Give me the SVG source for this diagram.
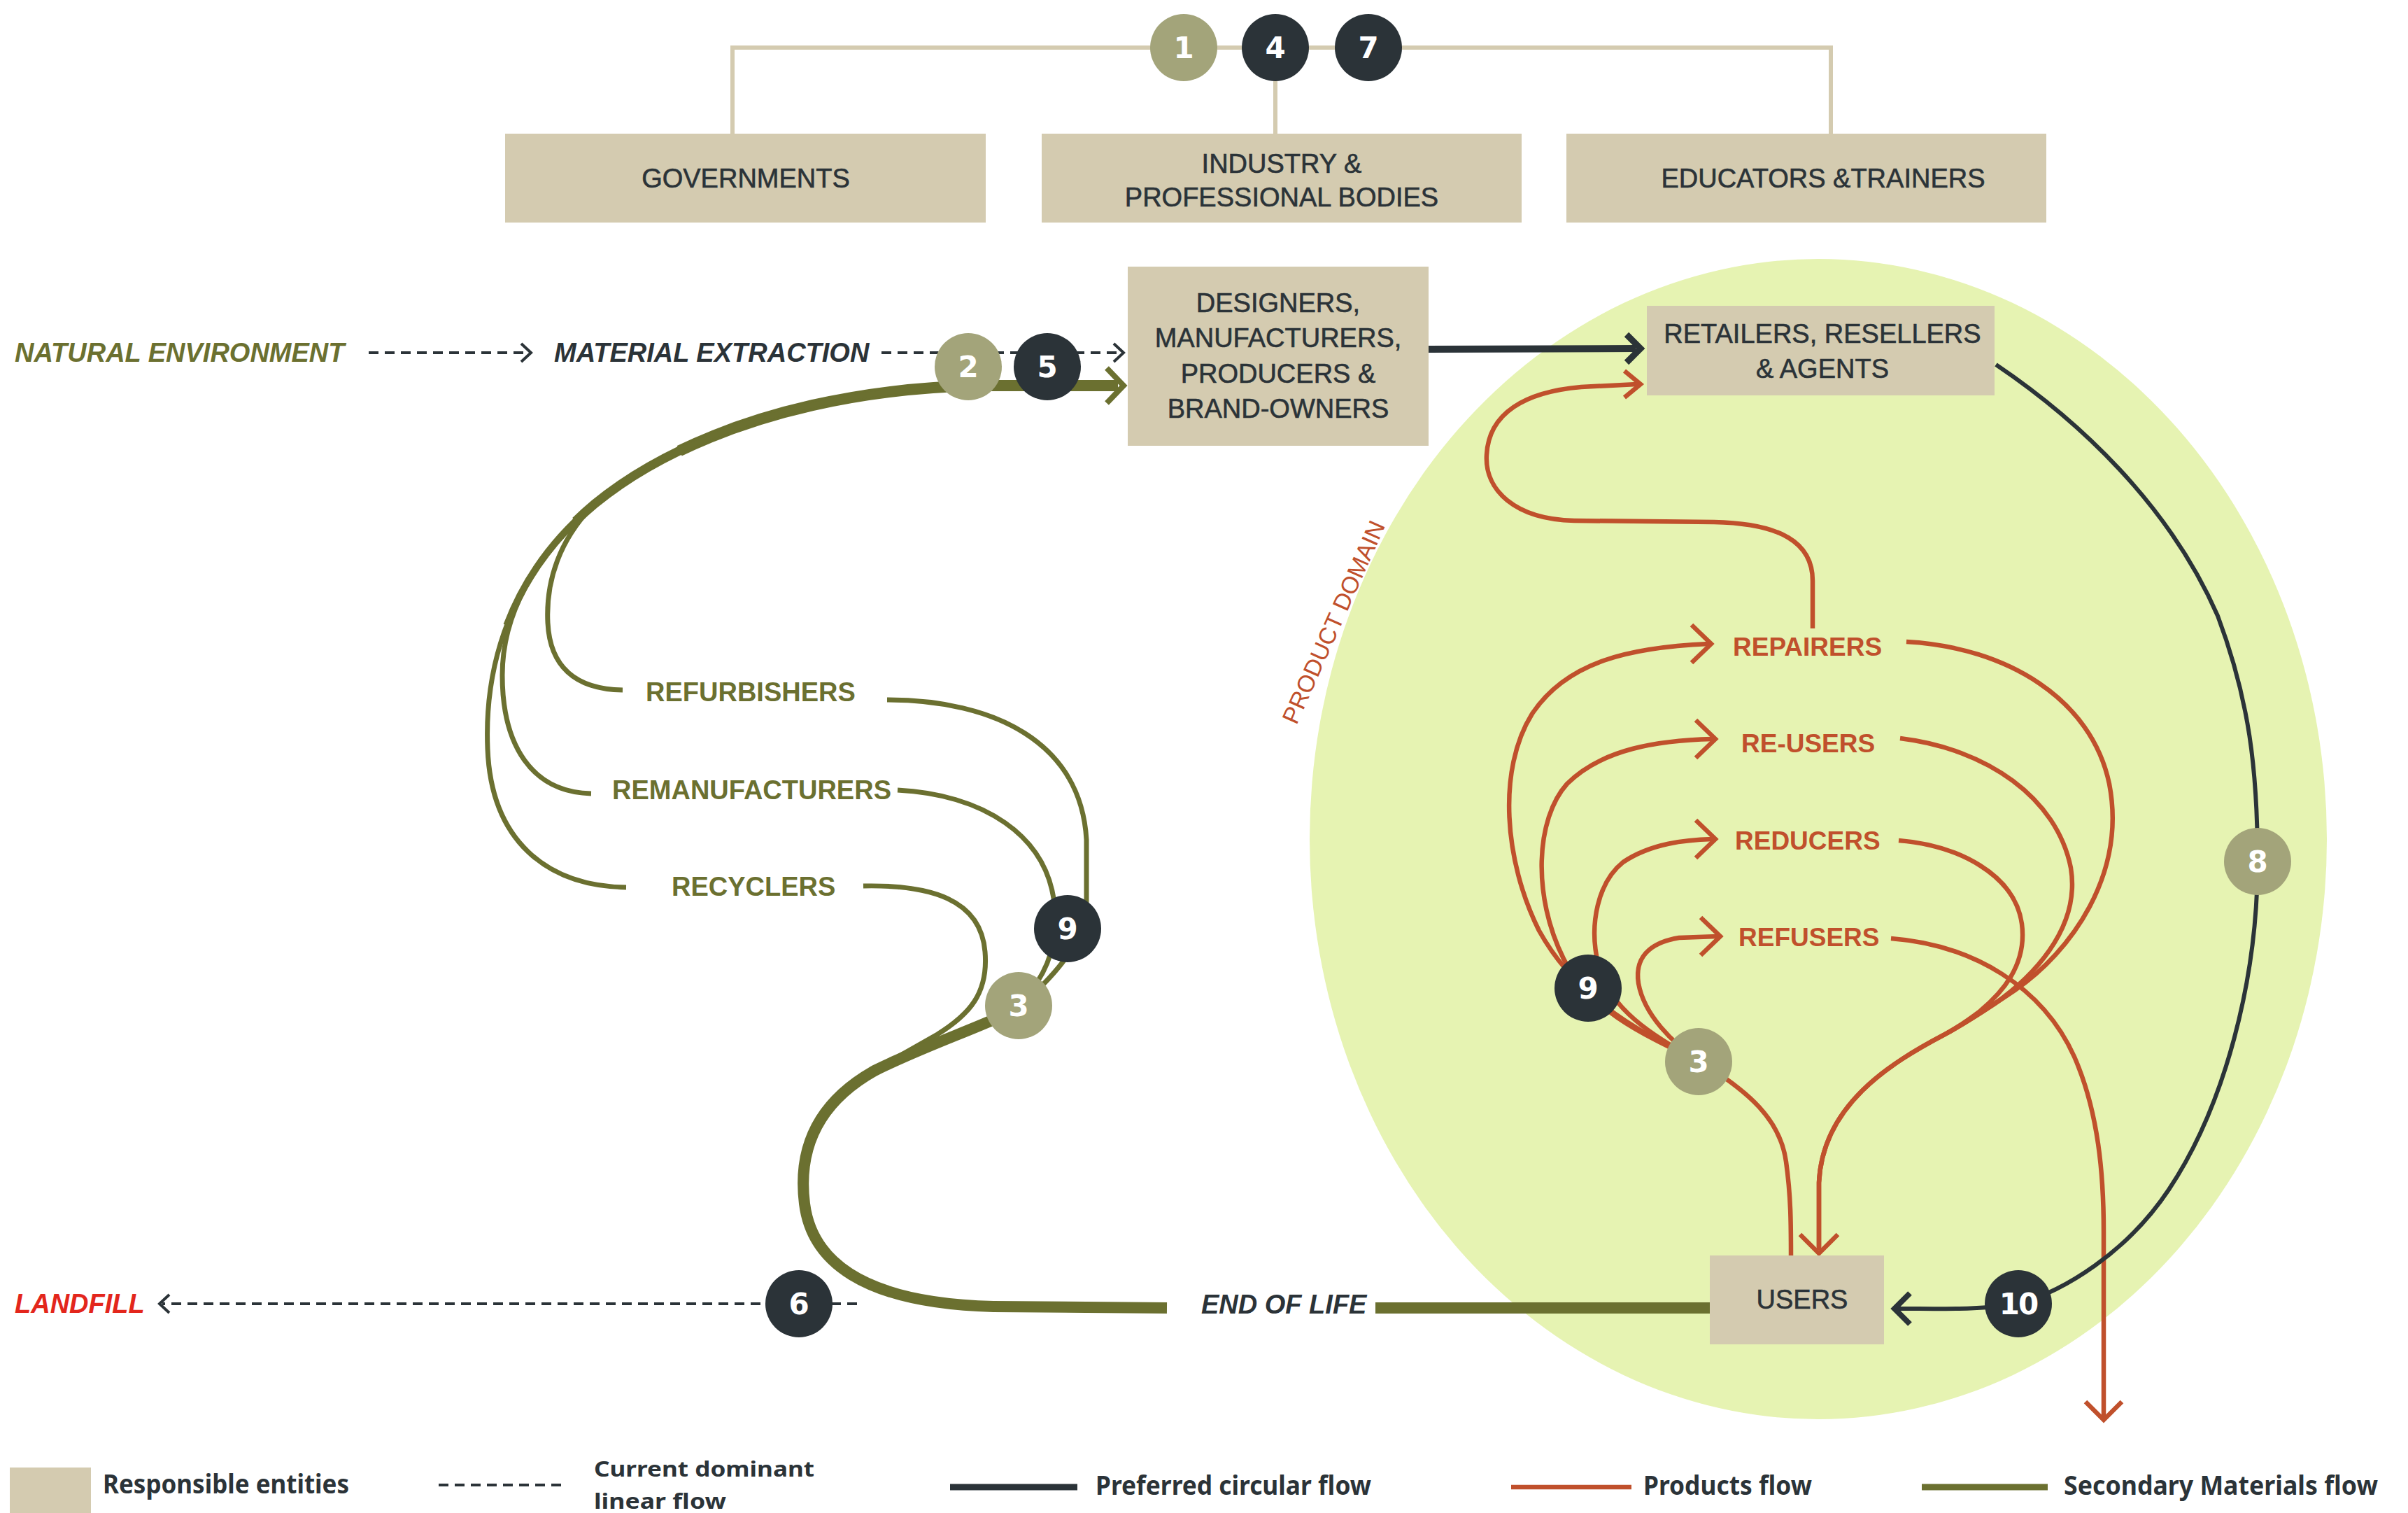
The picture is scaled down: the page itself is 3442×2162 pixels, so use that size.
<svg xmlns="http://www.w3.org/2000/svg" width="3442" height="2162" viewBox="0 0 3442 2162">
<style>
.box{fill:#d4cbb0}
.bt{font-family:"Liberation Sans",Arial,sans-serif;font-size:38px;fill:#2b3338;text-anchor:middle;stroke:#2b3338;stroke-width:0.6}
.it{font-family:"Liberation Sans",Arial,sans-serif;font-size:38px;font-weight:bold;font-style:italic}
.lo{font-family:"Liberation Sans",Arial,sans-serif;font-size:38px;font-weight:bold;fill:#6b7030}
.lr{font-family:"Liberation Sans",Arial,sans-serif;font-size:37px;font-weight:bold;fill:#c0502c}
.num{font-family:"DejaVu Sans","Liberation Sans",sans-serif;font-size:42px;font-weight:bold;fill:#ffffff;text-anchor:middle}
.bl{fill:#a3a47a}
.bd{fill:#2b3338}
.leg{font-family:"Noto Sans","Liberation Sans",sans-serif;font-size:38px;font-weight:bold;fill:#2b3338}
.leg2{font-family:"Noto Sans","Liberation Sans",sans-serif;font-size:31px;font-weight:bold;fill:#2b3338}
.ol{fill:none;stroke:#6b7030;stroke-linecap:butt}
.rd{fill:none;stroke:#c0502c;stroke-width:6.5}
.dk{fill:none;stroke:#2b3338}
.dash{fill:none;stroke:#2b3338;stroke-width:4;stroke-dasharray:14 9}
.tan{fill:none;stroke:#d4cbb0;stroke-width:6}
</style>
<defs>
  <path id="outer-arc" d="M1598,551 L1400,551 C1150,556 960,630 850,720 C730,820 692,950 697,1070 C702,1200 780,1266 895,1268"/>
</defs>

<ellipse id="product-domain" cx="2599" cy="1199" rx="727" ry="829" fill="#e6f3b2"/>
<text id="product-domain-label" transform="translate(1906,889) rotate(-66)" text-anchor="middle" y="12" font-family="Liberation Sans, Arial, sans-serif" font-size="34" fill="#c0502c">PRODUCT DOMAIN</text>

<g id="connectors">
  <path class="tan" d="M1047,191 V68 H2617 V191"/>
  <path class="tan" d="M1823,68 V191"/>
  <path class="dash" d="M527,504 H756"/>
  <path class="dk" stroke-width="4" d="M745,491 L759,504 L745,517"/>
  <path class="dash" d="M1260,504 H1600"/>
  <path class="dk" stroke-width="4" d="M1592,491 L1606,504 L1592,517"/>
  <path class="dash" d="M1225,1863 H232"/>
  <path class="dk" stroke-width="4" d="M242,1850 L228,1863 L242,1876"/>

  <use href="#outer-arc" class="ol" stroke-width="16" stroke-dasharray="640 5000"/>
  <use href="#outer-arc" class="ol" stroke-width="13" stroke-dasharray="820 5000"/>
  <use href="#outer-arc" class="ol" stroke-width="10" stroke-dasharray="1000 5000"/>
  <use href="#outer-arc" class="ol" stroke-width="7"/>
  <path class="ol" stroke-width="7" d="M850,720 C760,800 718,880 718,965 C718,1065 760,1132 845,1134"/>
  <path class="ol" stroke-width="7" d="M850,720 C800,770 780,830 783,890 C786,950 820,985 890,986"/>
  <path class="ol" stroke-width="8" d="M1582,526 L1606,551 L1582,576"/>
  <path class="ol" stroke-width="7" d="M1268,1000 C1420,1000 1545,1060 1553,1200 L1553,1290 C1550,1350 1505,1395 1465,1432"/>
  <path class="ol" stroke-width="7" d="M1283,1129 C1400,1135 1500,1190 1508,1300 C1512,1360 1490,1400 1460,1432"/>
  <path class="ol" stroke-width="7" d="M1234,1266 C1330,1264 1402,1285 1408,1360 C1413,1420 1385,1450 1340,1478 L1280,1512"/>
  <path class="ol" stroke-width="16" d="M1462,1436 C1420,1462 1330,1490 1250,1530 C1170,1575 1140,1640 1150,1720 C1160,1800 1230,1862 1420,1867 L1668,1869"/>
  <path class="ol" stroke-width="16" d="M1966,1869 H2446"/>

  <path class="rd" d="M2591,898 L2591,830 C2591,775 2545,748 2450,746 L2250,744 C2165,742 2122,700 2125,650 C2128,590 2180,560 2260,553 L2340,549"/>
  <path class="rd" stroke-width="7" d="M2322,530 L2345,549 L2322,568"/>
  <path class="rd" d="M2430,1517 C2330,1470 2250,1420 2200,1330 C2150,1230 2140,1100 2190,1020 C2240,945 2330,925 2442,920"/>
  <path class="rd" d="M2430,1517 C2340,1475 2270,1440 2235,1370 C2190,1280 2195,1170 2240,1120 C2290,1070 2370,1058 2448,1056"/>
  <path class="rd" d="M2430,1517 C2360,1480 2300,1440 2285,1380 C2270,1320 2285,1260 2320,1232 C2360,1205 2410,1200 2448,1199"/>
  <path class="rd" d="M2430,1517 C2390,1490 2350,1450 2342,1405 C2335,1360 2370,1345 2400,1340 L2455,1338"/>
  <path class="rd" d="M2418,893 L2446,920 L2418,947"/>
  <path class="rd" d="M2424,1029 L2452,1056 L2424,1083"/>
  <path class="rd" d="M2424,1172 L2452,1199 L2424,1226"/>
  <path class="rd" d="M2431,1311 L2459,1338 L2431,1365"/>
  <path class="rd" d="M2725,917 C2870,925 2990,1000 3015,1120 C3040,1250 2960,1360 2880,1415 C2840,1442 2810,1462 2780,1478 C2700,1520 2605,1580 2600,1690 L2600,1786"/>
  <path class="rd" d="M2716,1055 C2840,1070 2940,1140 2960,1240 C2975,1330 2900,1400 2850,1435 C2820,1455 2800,1467 2780,1478"/>
  <path class="rd" d="M2714,1201 C2800,1208 2880,1250 2890,1320 C2898,1380 2860,1420 2830,1445 C2810,1460 2795,1470 2780,1478"/>
  <path class="rd" stroke-width="13" d="M2780,1478 C2700,1520 2605,1580 2600,1690 L2600,1784"/>
  <path class="rd" stroke-width="13" d="M2430,1517 C2500,1560 2545,1600 2553,1660 C2560,1710 2560,1750 2560,1794"/>
  <path class="rd" stroke-width="7" d="M2573,1764 L2600,1791 L2627,1764"/>
  <path class="rd" d="M2703,1341 C2820,1350 2920,1410 2965,1510 C3000,1590 3007,1680 3007,1760 L3007,2026"/>
  <path class="rd" d="M2981,2003 L3007,2029 L3033,2003"/>

  <path class="dk" stroke-width="10" d="M2042,499 L2338,498"/>
  <path class="dk" stroke-width="9" d="M2325,478 L2345,498 L2325,518"/>
  <path class="dk" stroke-width="6" d="M2853,521 C2970,600 3100,720 3170,880 C3215,1000 3227,1100 3227,1231 C3227,1400 3180,1580 3100,1700 C3040,1790 2950,1845 2885,1863 C2830,1872 2780,1870 2712,1870"/>
  <path class="dk" stroke-width="8" d="M2730,1848 L2708,1870 L2730,1892"/>
</g>

<g id="governments"><rect class="box" x="722" y="191" width="687" height="127"/><text class="bt" x="1066" y="268">GOVERNMENTS</text></g>
<g id="industry"><rect class="box" x="1489" y="191" width="686" height="127"/><text class="bt" x="1832" y="247">INDUSTRY &amp;</text><text class="bt" x="1832" y="295">PROFESSIONAL BODIES</text></g>
<g id="educators"><rect class="box" x="2239" y="191" width="686" height="127"/><text class="bt" x="2606" y="268">EDUCATORS &amp;TRAINERS</text></g>
<g id="designers"><rect class="box" x="1612" y="381" width="430" height="256"/><text class="bt" x="1827" y="446">DESIGNERS,</text><text class="bt" x="1827" y="496">MANUFACTURERS,</text><text class="bt" x="1827" y="547">PRODUCERS &amp;</text><text class="bt" x="1827" y="597">BRAND-OWNERS</text></g>
<g id="retailers"><rect class="box" x="2354" y="437" width="497" height="128"/><text class="bt" x="2605" y="490">RETAILERS, RESELLERS</text><text class="bt" x="2605" y="540">&amp; AGENTS</text></g>
<g id="users"><rect class="box" x="2444" y="1794" width="249" height="127"/><text class="bt" x="2576" y="1870">USERS</text></g>

<g id="natural-environment"><text class="it" x="21" y="517" fill="#6b7030">NATURAL ENVIRONMENT</text></g>
<g id="material-extraction"><text class="it" x="792" y="517" fill="#2b3338">MATERIAL EXTRACTION</text></g>
<g id="end-of-life"><text class="it" x="1717" y="1877" fill="#2b3338">END OF LIFE</text></g>
<g id="landfill"><text class="it" x="21" y="1876" fill="#e3261c">LANDFILL</text></g>
<g id="refurbishers"><text class="lo" x="923" y="1002">REFURBISHERS</text></g>
<g id="remanufacturers"><text class="lo" x="875" y="1142">REMANUFACTURERS</text></g>
<g id="recyclers"><text class="lo" x="960" y="1280">RECYCLERS</text></g>
<g id="repairers"><text class="lr" x="2477" y="937">REPAIRERS</text></g>
<g id="re-users"><text class="lr" x="2489" y="1075">RE-USERS</text></g>
<g id="reducers"><text class="lr" x="2480" y="1214">REDUCERS</text></g>
<g id="refusers"><text class="lr" x="2485" y="1352">REFUSERS</text></g>

<g id="badge-1"><circle class="bl" cx="1692" cy="68" r="48"/><text class="num" x="1692" y="83">1</text></g>
<g id="badge-4"><circle class="bd" cx="1823" cy="68" r="48"/><text class="num" x="1823" y="83">4</text></g>
<g id="badge-7"><circle class="bd" cx="1956" cy="68" r="48"/><text class="num" x="1956" y="83">7</text></g>
<g id="badge-2"><circle class="bl" cx="1384" cy="524" r="48"/><text class="num" x="1384" y="539">2</text></g>
<g id="badge-5"><circle class="bd" cx="1497" cy="524" r="48"/><text class="num" x="1497" y="539">5</text></g>
<g id="badge-9a"><circle class="bd" cx="1526" cy="1327" r="48"/><text class="num" x="1526" y="1342">9</text></g>
<g id="badge-3a"><circle class="bl" cx="1456" cy="1437" r="48"/><text class="num" x="1456" y="1452">3</text></g>
<g id="badge-6"><circle class="bd" cx="1142" cy="1863" r="48"/><text class="num" x="1142" y="1878">6</text></g>
<g id="badge-9b"><circle class="bd" cx="2270" cy="1412" r="48"/><text class="num" x="2270" y="1427">9</text></g>
<g id="badge-3b"><circle class="bl" cx="2428" cy="1517" r="48"/><text class="num" x="2428" y="1532">3</text></g>
<g id="badge-8"><circle class="bl" cx="3227" cy="1231" r="48"/><text class="num" x="3227" y="1246">8</text></g>
<g id="badge-10"><circle class="bd" cx="2885" cy="1863" r="48"/><text class="num" x="2885" y="1878" letter-spacing="-2">10</text></g>

<g id="legend">
  <rect class="box" x="14" y="2097" width="116" height="65"/>
  <text class="leg" x="147" y="2134" textLength="352" lengthAdjust="spacingAndGlyphs">Responsible entities</text>
  <path class="dash" d="M627,2122 H810"/>
  <text class="leg2" x="849" y="2110" textLength="315" lengthAdjust="spacingAndGlyphs">Current dominant</text>
  <text class="leg2" x="849" y="2156" textLength="189" lengthAdjust="spacingAndGlyphs">linear flow</text>
  <path class="dk" stroke-width="9" d="M1358,2125 H1540"/>
  <text class="leg" x="1566" y="2136" textLength="394" lengthAdjust="spacingAndGlyphs">Preferred circular flow</text>
  <path class="rd" stroke-width="9" d="M2160,2125 H2332"/>
  <text class="leg" x="2349" y="2136" textLength="241" lengthAdjust="spacingAndGlyphs">Products flow</text>
  <path class="ol" stroke-width="9" d="M2747,2125 H2927"/>
  <text class="leg" x="2950" y="2136" textLength="449" lengthAdjust="spacingAndGlyphs">Secondary Materials flow</text>
</g>
</svg>
